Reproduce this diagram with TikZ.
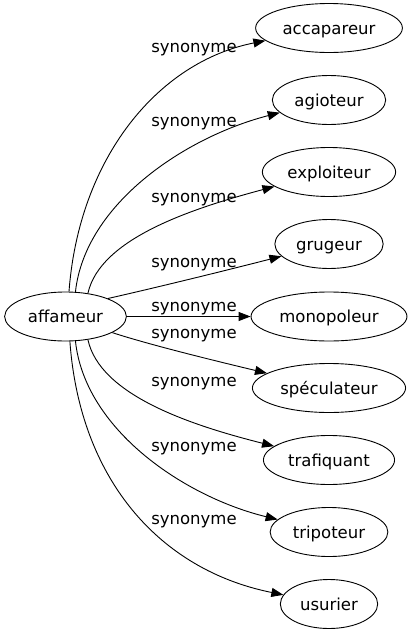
\documentclass[tikz,border=0pt]{standalone}
\usepackage{fontspec}
\setmainfont{DejaVu Sans}
\usepackage{tikz}
\usetikzlibrary{arrows.meta,shapes.geometric}

\begin{document}
\begin{tikzpicture}[x=1pt,y=1pt]
\tikzstyle{every node}+=[font=\fontsize{16.5}{20}\selectfont]
\tikzstyle{word}=[draw, ellipse, line width=0.9pt, inner xsep=5.5pt, inner ysep=0pt, minimum height=49pt, text height=14pt, text depth=2pt]
\tikzstyle{syn}=[-{Triangle[length=12pt,width=9pt]}, line width=0.9pt]
\useasboundingbox (0,0) rectangle (412,-635);
\node [word] (aff) at (65.5,-316.5) {affameur};
\node [word] (acc) at (329,-28) {accapareur};
\node [word] (agi) at (329,-100) {agioteur};
\node [word] (exp) at (329,-172) {exploiteur};
\node [word] (gru) at (329,-244) {grugeur};
\node [word] (mon) at (329,-316.5) {monopoleur};
\node [word] (spe) at (329,-388) {spéculateur};
\node [word] (tra) at (329,-460) {trafiquant};
\node [word] (tri) at (329,-532) {tripoteur};
\node [word] (usu) at (329,-604) {usurier};
\draw [syn] (aff.82) .. controls (79,-158) and (158,-62) .. (acc);
\node [anchor=base] (l1) at (194,-52.7) {synonyme};
\draw [syn] (aff.68) .. controls (85,-204) and (185,-137) .. (agi);
\node [anchor=base] (l2) at (194,-126.7) {synonyme};
\draw [syn] (aff.46) .. controls (100,-239) and (190,-209) .. (exp);
\node [anchor=base] (l3) at (194,-202) {synonyme};
\draw [syn] (aff.23) .. controls (150,-289) and (220,-272) .. (gru);
\node [anchor=base] (l4) at (194,-267) {synonyme};
\draw [syn] (aff) -- (mon);
\node [anchor=base] (l5) at (194,-311.7) {synonyme};
\draw [syn] (aff.-19) .. controls (150,-345) and (220,-362) .. (spe);
\node [anchor=base] (l6) at (194,-338.3) {synonyme};
\draw [syn] (aff.-46) .. controls (100,-395) and (190,-425) .. (tra);
\node [anchor=base] (l7) at (194,-386.7) {synonyme};
\draw [syn] (aff.-68) .. controls (85,-430) and (185,-497) .. (tri);
\node [anchor=base] (l8) at (194,-451) {synonyme};
\draw [syn] (aff.-80) .. controls (80,-480) and (160,-570) .. (usu);
\node [anchor=base] (l9) at (194,-524.3) {synonyme};
\end{tikzpicture}
\end{document}
